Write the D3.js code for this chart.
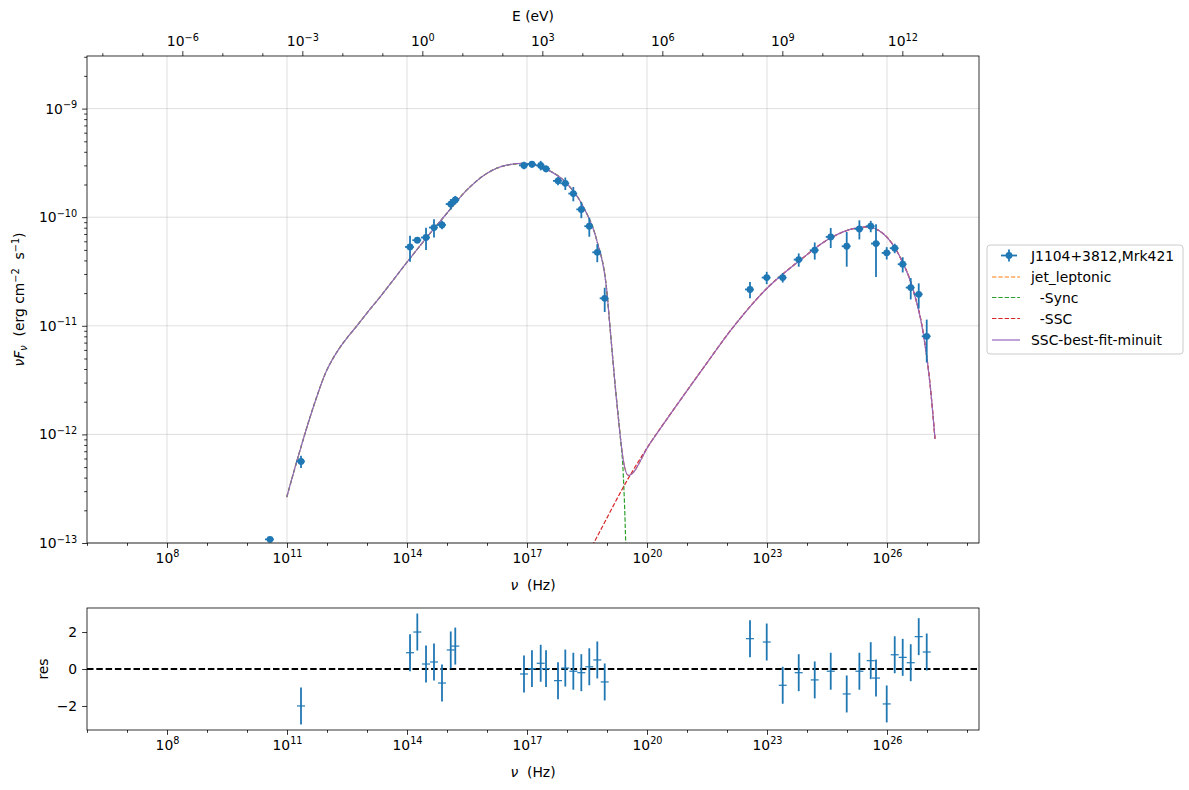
<!DOCTYPE html>
<html>
<head>
<meta charset="utf-8">
<script src="https://cdn.jsdelivr.net/npm/d3@7"></script>
<style>
  html, body { margin: 0; padding: 0; background: #fff; }
  svg text { font-family: "DejaVu Sans", sans-serif; }
</style>
</head>
<body>
<svg id="chart" width="1189" height="790"></svg>
<script>
// ---------------- DATA ----------------
const nu = [3.76e10, 2.24e11,
  1.19e14, 1.81e14, 2.99e14, 4.73e14, 7.50e14, 1.24e15, 1.61e15,
  8.41e16, 1.33e17, 2.20e17, 2.99e17, 5.96e17, 9.07e17, 1.44e18, 2.28e18, 3.61e18, 5.72e18, 8.76e18,
  3.76e22, 9.84e22, 2.47e23, 6.21e23, 1.56e24, 3.92e24, 9.84e24, 2.04e25, 3.92e25, 5.31e25, 9.84e25,
  1.56e26, 2.47e26, 3.92e26, 6.21e26, 9.84e26];
const nuFnu = [1.08e-13, 5.64e-13,
  5.32e-11, 6.14e-11, 6.50e-11, 8.03e-11, 8.49e-11, 1.32e-10, 1.44e-10,
  3.00e-10, 3.08e-10, 3.00e-10, 2.79e-10, 2.16e-10, 2.05e-10, 1.65e-10, 1.18e-10, 8.26e-11, 4.75e-11, 1.79e-11,
  2.16e-11, 2.78e-11, 2.78e-11, 4.07e-11, 4.96e-11, 6.58e-11, 5.40e-11, 7.80e-11, 8.26e-11, 5.72e-11, 4.69e-11,
  5.18e-11, 3.69e-11, 2.25e-11, 1.95e-11, 8.0e-12];
const nuFnuErr = [5.4e-15, 7.3e-14,
  1.44e-11, 4.0e-12, 1.5e-11, 1.53e-11, 7.6e-12, 1.45e-11, 1.3e-11,
  2.4e-11, 2.2e-11, 3.0e-11, 2.0e-11, 1.9e-11, 2.7e-11, 2.5e-11, 2.0e-11, 1.65e-11, 9.0e-12, 4.5e-12,
  3.7e-12, 3.6e-12, 2.8e-12, 5.7e-12, 8.9e-12, 1.38e-11, 1.9e-11, 1.56e-11, 9.9e-12, 2.9e-11, 6.1e-12,
  5.2e-12, 5.9e-12, 5.0e-12, 5.1e-12, 3.4e-12];
const nuErrFrac = 0.25;   // horizontal (frequency) error, fraction of nu
const residuals = [null, -2.0,
  0.88, 2.0, 0.27, 0.38, -0.76, 1.03, 1.24,
  -0.27, 0.02, 0.31, 0.02, -0.63, 0.05, -0.12, -0.2, 0.12, 0.49, -0.7,
  1.64, 1.46, -0.88, -0.2, -0.59, -0.12, -1.35, -0.12, 0.45, -0.49, -1.89,
  0.77, 0.63, 0.34, 1.75, 0.92];
const residualErr = 1.0;

// model curves (log10 nu, log10 nuFnu)
const syncLogNu = [10.993, 11.325, 11.658, 11.993, 12.158, 12.325, 12.493, 12.658, 12.993, 13.325, 14.025, 14.575, 14.993, 15.493,
  15.993, 16.493, 16.908, 17.493, 17.993, 18.408, 18.743, 18.993, 19.075, 19.2, 19.325, 19.408, 19.468, 19.5];
const syncLogF = [-12.578, -12.147, -11.748, -11.410, -11.295, -11.198, -11.115, -11.041, -10.885, -10.735, -10.403, -10.150, -9.966, -9.751,
  -9.597, -9.521, -9.505, -9.560, -9.689, -9.905, -10.212, -10.673, -11.011, -11.533, -11.994, -12.378, -13.005, -13.53];
const sscLogNu = [18.325, 18.658, 19.575, 20.075, 20.65, 21.4, 22.15, 23.0, 23.825, 24.575, 25.15,
  25.5, 25.9, 26.325, 26.658, 26.908, 27.075, 27.2];
const sscLogF = [-13.233, -13.007, -12.378, -12.083, -11.779, -11.392, -11.014, -10.654, -10.396, -10.194, -10.106,
  -10.089, -10.150, -10.366, -10.673, -11.072, -11.533, -12.040];
const totalLogNu = [10.993, 11.325, 11.658, 11.993, 12.158, 12.325, 12.493, 12.658, 12.993, 13.325, 14.025, 14.575, 14.993, 15.493,
  15.993, 16.493, 16.908, 17.493, 17.993, 18.408, 18.743, 18.993, 19.075, 19.2, 19.325, 19.408, 19.533,
  20.075, 20.65, 21.4, 22.15, 23.0, 23.825, 24.575, 25.15, 25.5, 25.9, 26.325, 26.658, 26.908, 27.075, 27.2];
const totalLogF = [-12.578, -12.147, -11.748, -11.410, -11.295, -11.198, -11.115, -11.041, -10.885, -10.735, -10.403, -10.150, -9.966, -9.751,
  -9.597, -9.521, -9.505, -9.560, -9.689, -9.905, -10.212, -10.673, -11.011, -11.533, -11.994, -12.240, -12.378,
  -12.083, -11.779, -11.392, -11.014, -10.654, -10.396, -10.194, -10.106, -10.089, -10.150, -10.366, -10.673, -11.072, -11.533, -12.040];

const xMajorTicks = [1e8, 1e11, 1e14, 1e17, 1e20, 1e23, 1e26];
const yMajorTicks = [1e-13, 1e-12, 1e-11, 1e-10, 1e-9];
const eMajorTicks = [1e-6, 1e-3, 1e0, 1e3, 1e6, 1e9, 1e12];
const resTicks = [-2, 0, 2];
const legendLabels = ["J1104+3812,Mrk421", "jet_leptonic", "  -Sync", "  -SSC", "SSC-best-fit-minuit"];
const hPlanck = 4.135667e-15; // eV s

// ---------------- LAYOUT ----------------
const svg = d3.select("#chart");
const L = 87, Rt = 979, T = 56, B = 543;
const RT = 608, RB = 730;
const FS = 13.9;
const blue = "#1f77b4";
const DASH = "4.4,1.9";

const x = d3.scaleLog().domain([1e6, Math.pow(10, 28.3)]).range([L, Rt]);
const y = d3.scaleLog().domain([1e-13, 3.05e-9]).range([B, T]);
const xE = d3.scaleLog().domain([1e6 * hPlanck, Math.pow(10, 28.3) * hPlanck]).range([L, Rt]);
const yR = d3.scaleLinear().domain([-3.3, 3.3]).range([RB, RT]);

svg.append("rect").attr("width", 1189).attr("height", 790).attr("fill", "#fff");

svg.append("defs").append("clipPath").attr("id", "clipMain")
  .append("rect").attr("x", L).attr("y", T).attr("width", Rt - L).attr("height", B - T);
svg.select("defs").append("clipPath").attr("id", "clipRes")
  .append("rect").attr("x", L).attr("y", RT).attr("width", Rt - L).attr("height", RB - RT);

function powLabel(sel) {
  sel.each(function(d) {
    const t = d3.select(this);
    const e = Math.round(Math.log10(d));
    t.text(null);
    t.append("tspan").text("10");
    t.append("tspan").attr("dy", "-0.55em").attr("font-size", "0.7em")
      .text(e < 0 ? "\u2212" + (-e) : String(e));
  });
}
function decadesBetween(lo, hi) {
  const out = [];
  for (let e = Math.ceil(Math.log10(lo)); e <= Math.floor(Math.log10(hi)); e++) out.push(Math.pow(10, e));
  return out;
}
function styleAxis(g) {
  g.select(".domain").remove();
  g.selectAll("line").attr("stroke", "#000").attr("stroke-width", 0.8);
  g.selectAll("text").attr("font-size", FS).attr("fill", "#000").attr("font-family", "DejaVu Sans");
}

// grid
const grid = svg.append("g");
xMajorTicks.forEach(v => grid.append("line").attr("x1", x(v)).attr("x2", x(v)).attr("y1", T).attr("y2", B)
  .attr("stroke", "#b0b0b0").attr("stroke-opacity", 0.5).attr("stroke-width", 0.8));
yMajorTicks.forEach(v => grid.append("line").attr("x1", L).attr("x2", Rt).attr("y1", y(v)).attr("y2", y(v))
  .attr("stroke", "#b0b0b0").attr("stroke-opacity", 0.5).attr("stroke-width", 0.8));

// minor ticks lists
const isMajor = (list, v) => list.some(m => Math.abs(Math.log10(m) - Math.log10(v)) < 1e-6);
const xMinor = decadesBetween(1e6, Math.pow(10, 28.3)).filter(v => !isMajor(xMajorTicks, v));
const eMinor = decadesBetween(1e6 * hPlanck, Math.pow(10, 28.3) * hPlanck).filter(v => !isMajor(eMajorTicks, v));
const yMinor = [];
for (let e = -13; e <= -9; e++) for (let k = 2; k <= 9; k++) { const v = k * Math.pow(10, e); if (v <= 3.05e-9) yMinor.push(v); }

// main axes
const gxB = svg.append("g").attr("transform", `translate(0,${B})`)
  .call(d3.axisBottom(x).tickValues(xMajorTicks).tickSize(4.9).tickPadding(4.9));
styleAxis(gxB); powLabel(gxB.selectAll("text"));
const gxBm = svg.append("g").attr("transform", `translate(0,${B})`)
  .call(d3.axisBottom(x).tickValues(xMinor).tickSize(2.8).tickFormat(""));
styleAxis(gxBm);

const gxT = svg.append("g").attr("transform", `translate(0,${T})`)
  .call(d3.axisTop(xE).tickValues(eMajorTicks).tickSize(4.9).tickPadding(4.9));
styleAxis(gxT); powLabel(gxT.selectAll("text"));
const gxTm = svg.append("g").attr("transform", `translate(0,${T})`)
  .call(d3.axisTop(xE).tickValues(eMinor).tickSize(2.8).tickFormat(""));
styleAxis(gxTm);

const gy = svg.append("g").attr("transform", `translate(${L},0)`)
  .call(d3.axisLeft(y).tickValues(yMajorTicks).tickSize(4.9).tickPadding(4.9));
styleAxis(gy); powLabel(gy.selectAll("text"));
const gym = svg.append("g").attr("transform", `translate(${L},0)`)
  .call(d3.axisLeft(y).tickValues(yMinor).tickSize(2.8).tickFormat(""));
styleAxis(gym);

// model curves
const lineGen = d3.line().x(d => x(Math.pow(10, d[0]))).y(d => y(Math.pow(10, d[1]))).curve(d3.curveMonotoneX);
const curves = svg.append("g").attr("clip-path", "url(#clipMain)");
const totalPts = totalLogNu.map((v, i) => [v, totalLogF[i]]);
const syncPts = syncLogNu.map((v, i) => [v, syncLogF[i]]);
const sscPts = sscLogNu.map((v, i) => [v, sscLogF[i]]);
curves.append("path").attr("d", lineGen(totalPts)).attr("fill", "none").attr("stroke", "#ff7f0e")
  .attr("stroke-width", 1.2).attr("stroke-dasharray", DASH);
curves.append("path").attr("d", lineGen(syncPts)).attr("fill", "none").attr("stroke", "#2ca02c")
  .attr("stroke-width", 1.2).attr("stroke-dasharray", DASH);
curves.append("path").attr("d", lineGen(sscPts)).attr("fill", "none").attr("stroke", "#d62728")
  .attr("stroke-width", 1.2).attr("stroke-dasharray", DASH);
curves.append("path").attr("d", lineGen(totalPts)).attr("fill", "none").attr("stroke", "#9467bd")
  .attr("stroke-width", 1.2);

// data points
const dataG = svg.append("g").attr("clip-path", "url(#clipMain)");
nu.forEach((v, i) => {
  const cx = x(v), cy = y(nuFnu[i]);
  const lo = Math.max(nuFnu[i] - nuFnuErr[i], 1e-20);
  dataG.append("line").attr("x1", cx).attr("x2", cx).attr("y1", y(lo)).attr("y2", y(nuFnu[i] + nuFnuErr[i]))
    .attr("stroke", blue).attr("stroke-width", 1.8);
  dataG.append("line").attr("x1", x(v * (1 - nuErrFrac))).attr("x2", x(v * (1 + nuErrFrac))).attr("y1", cy).attr("y2", cy)
    .attr("stroke", blue).attr("stroke-width", 1.8);
  dataG.append("circle").attr("cx", cx).attr("cy", cy).attr("r", 3.4).attr("fill", blue);
});

// frame
svg.append("rect").attr("x", L).attr("y", T).attr("width", Rt - L).attr("height", B - T)
  .attr("fill", "none").attr("stroke", "#000").attr("stroke-width", 0.8);

// labels main
svg.append("text").attr("x", (L + Rt) / 2).attr("y", 590).attr("text-anchor", "middle").attr("font-size", FS)
  .attr("xml:space", "preserve")
  .call(t => { t.append("tspan").attr("font-style", "italic").text("\u03bd"); t.append("tspan").text("  (Hz)"); });
svg.append("text").attr("x", (L + Rt) / 2).attr("y", 21).attr("text-anchor", "middle").attr("font-size", FS).text("E (eV)");
svg.append("text").attr("transform", `translate(24,${(T + B) / 2}) rotate(-90)`).attr("text-anchor", "middle")
  .attr("font-size", FS).attr("xml:space", "preserve")
  .call(t => {
    t.append("tspan").attr("font-style", "italic").text("\u03bdF");
    t.append("tspan").attr("font-style", "italic").attr("font-size", "0.7em").attr("dy", "0.3em").text("\u03bd");
    t.append("tspan").attr("dy", "-0.21em").text("  (erg cm");
    t.append("tspan").attr("font-size", "0.7em").attr("dy", "-0.5em").text("\u22122");
    t.append("tspan").attr("dy", "0.35em").text("  s");
    t.append("tspan").attr("font-size", "0.7em").attr("dy", "-0.5em").text("\u22121");
    t.append("tspan").attr("dy", "0.35em").text(")");
  });

// residual panel
const gRx = svg.append("g").attr("transform", `translate(0,${RB})`)
  .call(d3.axisBottom(x).tickValues(xMajorTicks).tickSize(4.9).tickPadding(4.9));
styleAxis(gRx); powLabel(gRx.selectAll("text"));
const gRxm = svg.append("g").attr("transform", `translate(0,${RB})`)
  .call(d3.axisBottom(x).tickValues(xMinor).tickSize(2.8).tickFormat(""));
styleAxis(gRxm);
const gRy = svg.append("g").attr("transform", `translate(${L},0)`)
  .call(d3.axisLeft(yR).tickValues(resTicks).tickSize(4.9).tickPadding(4.9)
    .tickFormat(d => d < 0 ? "\u2212" + (-d) : String(d)));
styleAxis(gRy);

const resG = svg.append("g").attr("clip-path", "url(#clipRes)");
resG.append("line").attr("x1", L).attr("x2", Rt).attr("y1", yR(0)).attr("y2", yR(0))
  .attr("stroke", "#000").attr("stroke-width", 1.8).attr("stroke-dasharray", "6.5,2.8");
residuals.forEach((r, i) => {
  if (r === null) return;
  const cx = x(nu[i]), cy = yR(r);
  resG.append("line").attr("x1", cx).attr("x2", cx).attr("y1", yR(r - residualErr)).attr("y2", yR(r + residualErr))
    .attr("stroke", blue).attr("stroke-width", 1.8);
  resG.append("line").attr("x1", cx - 4).attr("x2", cx + 4).attr("y1", cy).attr("y2", cy)
    .attr("stroke", blue).attr("stroke-width", 1.2);
});
svg.append("rect").attr("x", L).attr("y", RT).attr("width", Rt - L).attr("height", RB - RT)
  .attr("fill", "none").attr("stroke", "#000").attr("stroke-width", 0.8);
svg.append("text").attr("x", (L + Rt) / 2).attr("y", 777).attr("text-anchor", "middle").attr("font-size", FS)
  .attr("xml:space", "preserve")
  .call(t => { t.append("tspan").attr("font-style", "italic").text("\u03bd"); t.append("tspan").text("  (Hz)"); });
svg.append("text").attr("transform", `translate(48,${(RT + RB) / 2}) rotate(-90)`).attr("text-anchor", "middle")
  .attr("font-size", FS).text("res");

// legend
const lg = svg.append("g");
lg.append("rect").attr("x", 987).attr("y", 245).attr("width", 196).attr("height", 109).attr("rx", 3)
  .attr("fill", "#fff").attr("fill-opacity", 0.8).attr("stroke", "#cccccc").attr("stroke-width", 1);
const rowY = [255.5, 277, 297.5, 318.5, 340];
const legStyles = [null,
  { c: "#ff7f0e", dash: DASH }, { c: "#2ca02c", dash: DASH }, { c: "#d62728", dash: DASH }, { c: "#9467bd", dash: null }];
legendLabels.forEach((lab, i) => {
  const yy = rowY[i];
  if (i === 0) {
    lg.append("line").attr("x1", 1001).attr("x2", 1017).attr("y1", yy).attr("y2", yy).attr("stroke", blue).attr("stroke-width", 1.8);
    lg.append("line").attr("x1", 1009).attr("x2", 1009).attr("y1", yy - 6).attr("y2", yy + 6).attr("stroke", blue).attr("stroke-width", 1.8);
    lg.append("circle").attr("cx", 1009).attr("cy", yy).attr("r", 3.4).attr("fill", blue);
  } else {
    const s = legStyles[i];
    const ln = lg.append("line").attr("x1", 992).attr("x2", 1020).attr("y1", yy).attr("y2", yy)
      .attr("stroke", s.c).attr("stroke-width", 1.2);
    if (s.dash) ln.attr("stroke-dasharray", s.dash);
  }
  lg.append("text").attr("x", 1031).attr("y", yy + 5).attr("font-size", FS).attr("xml:space", "preserve")
    .style("white-space", "pre").text(lab);
});
</script>
</body>
</html>
